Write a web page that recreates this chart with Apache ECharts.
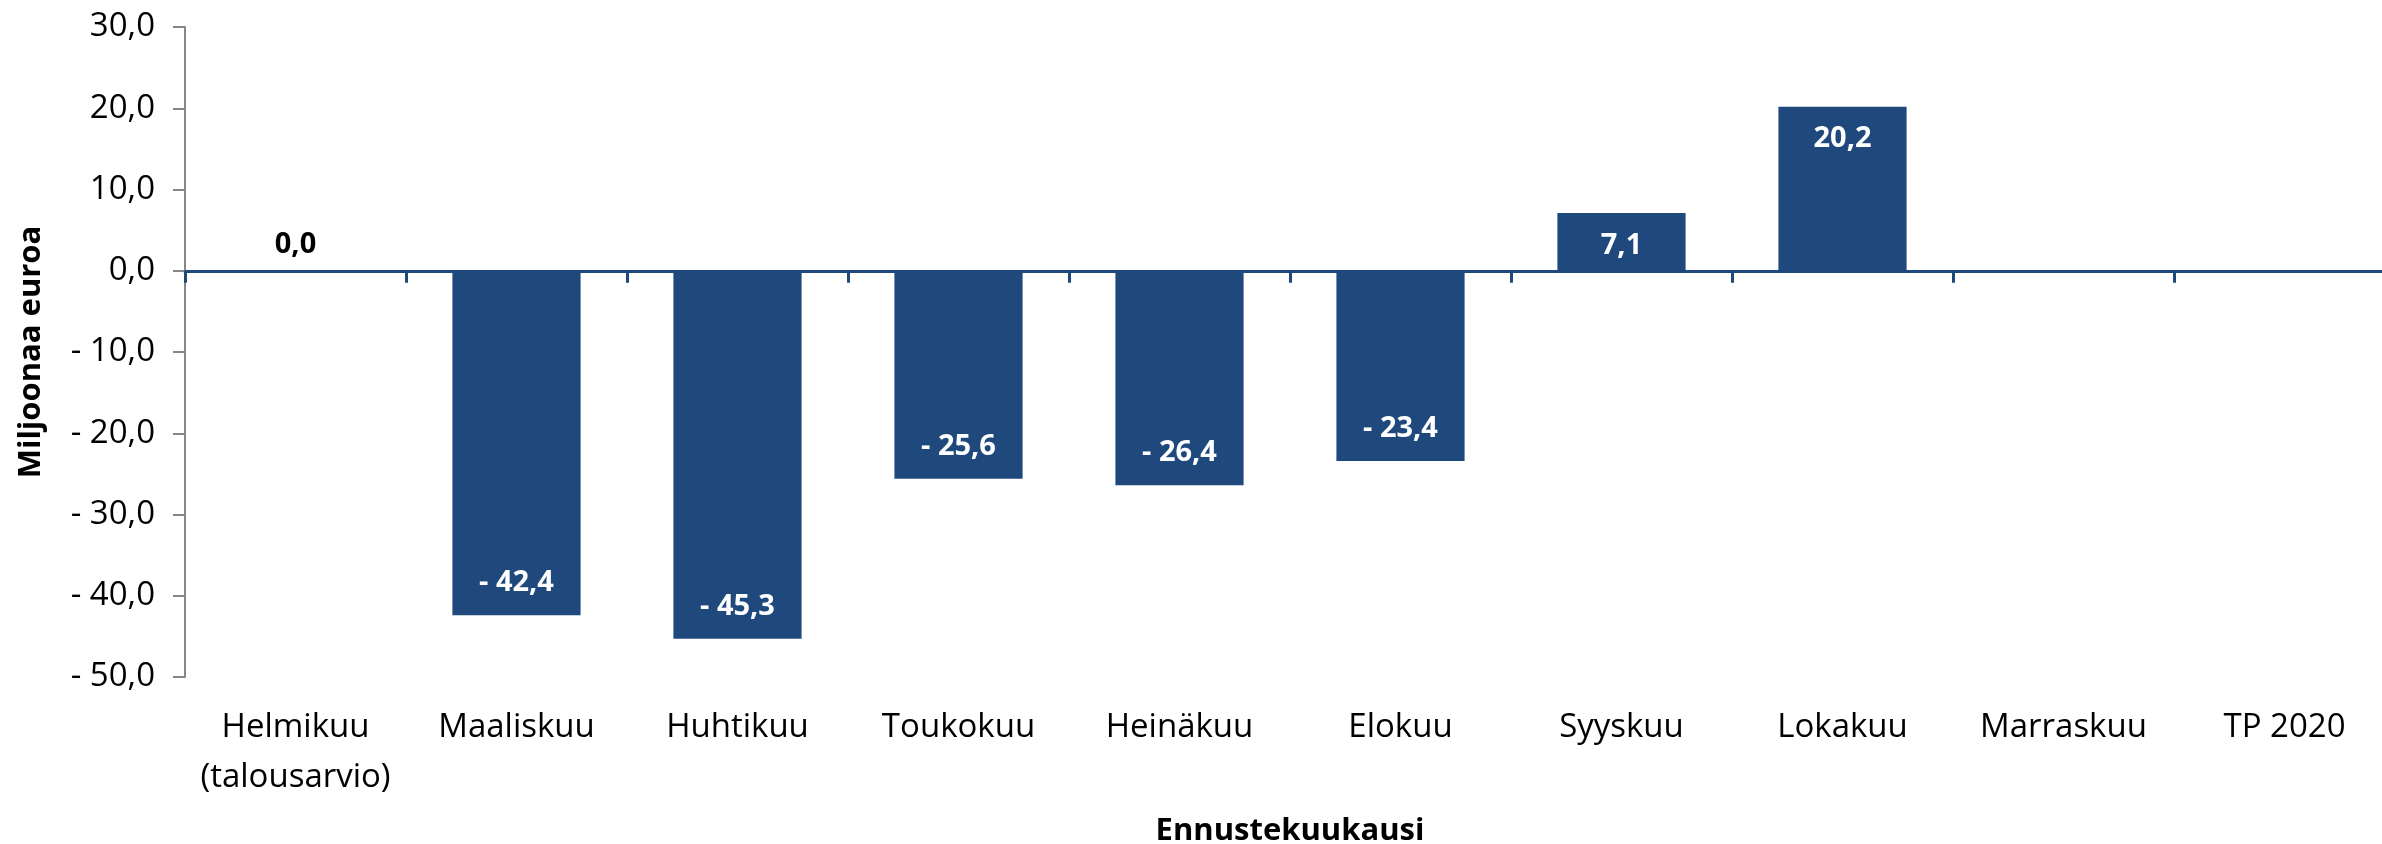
<!DOCTYPE html>
<html>
<head>
<meta charset="utf-8">
<script src="https://cdn.jsdelivr.net/npm/echarts@6/dist/echarts.min.js"></script>
<style>
html,body{margin:0;padding:0;background:#fff;}
#chart{width:2382px;height:844px;}
</style>
</head>
<body>
<div id="chart"></div>
<script>
const categories = ['Helmikuu\n(talousarvio)', 'Maaliskuu', 'Huhtikuu', 'Toukokuu', 'Heinäkuu', 'Elokuu', 'Syyskuu', 'Lokakuu', 'Marraskuu', 'TP 2020'];
const values = [0.0, -42.4, -45.3, -25.6, -26.4, -23.4, 7.1, 20.2, null, null];
const yMin = -50, yMax = 30, yStep = 10;
const yTitle = 'Miljoonaa euroa';
const xTitle = 'Ennustekuukausi';

const FONT = 'Open Sans';
const BAR = '#1F497D';

function fmt(v) {
  if (v === null || v === undefined) return '';
  return (v < 0 ? '- ' : '') + Math.abs(v).toFixed(1).replace('.', ',');
}

const seriesData = values.map(v => {
  if (v === null) return null;
  let label;
  if (v > 0) label = { position: 'insideTop', distance: 18, color: '#fff' };
  else if (v < 0) label = { position: 'insideBottom', distance: 18, color: '#fff' };
  else label = { position: 'top', distance: 12, color: '#000' };
  return { value: v, label: label };
});

const chart = echarts.init(document.getElementById('chart'), null, { renderer: 'canvas' });
chart.setOption({
  animation: false,
  backgroundColor: '#fff',
  textStyle: { fontFamily: FONT },
  grid: { left: 185, right: -13, top: 27, bottom: 167, containLabel: false, outerBoundsMode: 'none' },
  xAxis: [
    {
      type: 'category',
      data: categories,
      position: 'bottom',
      axisLine: { show: false, onZero: false },
      axisTick: { show: false },
      axisLabel: { fontFamily: FONT, fontSize: 33, color: '#000', margin: 26, lineHeight: 50, interval: 0 },
      name: xTitle,
      nameLocation: 'middle',
      nameGap: 139,
      nameTextStyle: { fontFamily: FONT, fontSize: 31, fontWeight: 'bold', color: '#000' }
    },
    {
      type: 'category',
      data: categories,
      position: 'top',
      axisLine: { show: true, onZero: true, lineStyle: { color: BAR, width: 3 } },
      axisTick: { show: true, inside: true, length: 12, lineStyle: { color: BAR, width: 3 } },
      axisLabel: { show: false }
    }
  ],
  yAxis: {
    type: 'value',
    min: yMin,
    max: yMax,
    interval: yStep,
    axisLine: { show: true, onZero: false, lineStyle: { color: '#868686', width: 2 } },
    axisTick: { show: true, length: 12, lineStyle: { color: '#868686', width: 2 } },
    splitLine: { show: false },
    axisLabel: { fontFamily: FONT, fontSize: 33, color: '#000', margin: 30, formatter: v => fmt(v) },
    name: yTitle,
    nameLocation: 'middle',
    nameGap: 138,
    nameRotate: 90,
    nameTextStyle: { fontFamily: FONT, fontSize: 31, fontWeight: 'bold', color: '#000' }
  },
  series: [{
    type: 'bar',
    xAxisIndex: 0,
    data: seriesData,
    barWidth: '58%',
    itemStyle: { color: BAR },
    label: {
      show: true,
      fontFamily: FONT,
      fontSize: 29,
      fontWeight: 'bold',
      formatter: p => fmt(p.value)
    }
  }]
});
</script>
</body>
</html>
